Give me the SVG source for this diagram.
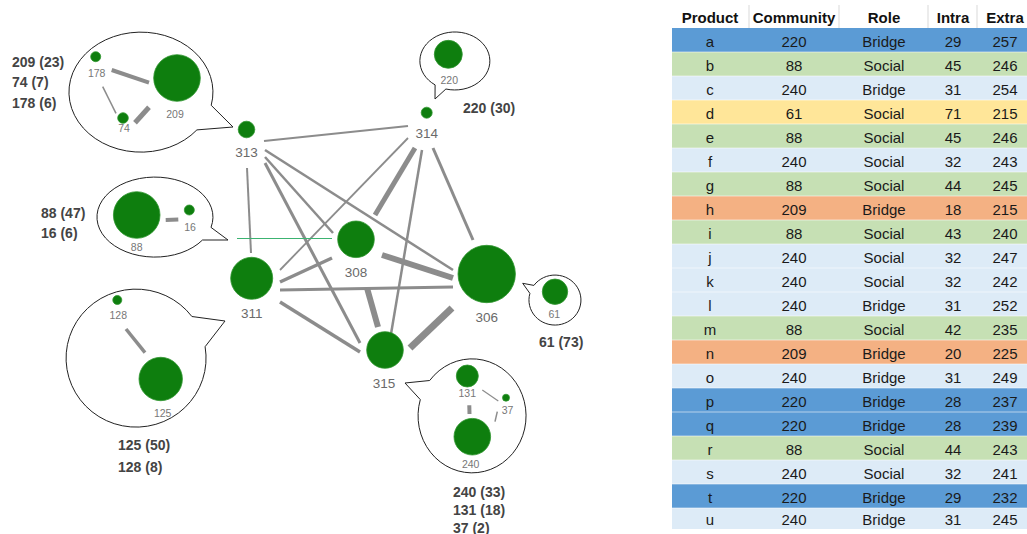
<svg xmlns="http://www.w3.org/2000/svg" width="1027" height="534" viewBox="0 0 1027 534">
  <defs>
    <style>
      .edge { stroke: #8c8c8c; stroke-linecap: butt; fill: none; }
      .node { fill: #0e7e0e; stroke: #2f962f; stroke-width: 0.8; }
      .lbl { font-family: "Liberation Sans", Arial, sans-serif; font-size: 13.5px; fill: #6a6a6a; text-anchor: middle; }
      .sub { font-family: "Liberation Sans", Arial, sans-serif; font-size: 10.5px; fill: #777; text-anchor: middle; }
      .cap { font-family: "Liberation Sans", Arial, sans-serif; font-size: 14px; font-weight: bold; fill: #444; }
      .bubble { fill: #fff; stroke: #222; stroke-width: 1; stroke-linejoin: miter; }
      .th { font-family: "Liberation Sans", Arial, sans-serif; font-size: 15px; font-weight: bold; fill: #111; text-anchor: middle; }
      .td { font-family: "Liberation Sans", Arial, sans-serif; font-size: 15px; fill: #1a1a1a; text-anchor: middle; }
      .blue { fill: #5b9bd5; }
      .green { fill: #c6e0b4; }
      .lblue { fill: #ddebf7; }
      .yellow { fill: #ffe699; }
      .orange { fill: #f4b183; }
    </style>
  </defs>

  <rect x="0" y="0" width="1027" height="534" fill="#fff"/>

  <!-- connectors between communities -->
  <g id="connectors">
    <line class="edge" x1="264" y1="141" x2="408" y2="126" stroke-width="2"/>
    <line class="edge" x1="247" y1="168" x2="251" y2="253" stroke-width="2"/>
    <line class="edge" x1="265" y1="150" x2="453" y2="270" stroke-width="2.5"/>
    <line class="edge" x1="265" y1="157" x2="333" y2="233" stroke-width="2.5"/>
    <line class="edge" x1="265" y1="163" x2="360" y2="343" stroke-width="3"/>
    <line class="edge" x1="408" y1="138" x2="280" y2="270" stroke-width="1.8"/>
    <line class="edge" x1="415" y1="148" x2="375" y2="215" stroke-width="5"/>
    <line class="edge" x1="422" y1="150" x2="390" y2="340" stroke-width="2.5"/>
    <line class="edge" x1="433" y1="148" x2="473" y2="240" stroke-width="3"/>
    <line class="edge" x1="280" y1="282" x2="332" y2="258" stroke-width="3.5"/>
    <line class="edge" x1="280" y1="290" x2="453" y2="287" stroke-width="3"/>
    <line class="edge" x1="280" y1="302" x2="360" y2="352" stroke-width="3.5"/>
    <line class="edge" x1="382" y1="255" x2="453" y2="278" stroke-width="6"/>
    <line class="edge" x1="367" y1="288" x2="378" y2="327" stroke-width="6"/>
    <line class="edge" x1="452" y1="308" x2="410" y2="348" stroke-width="7"/>
    <line x1="237" y1="238.5" x2="332" y2="238.5" stroke="#3cb371" stroke-width="1.2"/>
  </g>

  <!-- community nodes -->
  <g id="n313">
    <circle class="node" cx="246.5" cy="129.5" r="8.3"/>
    <text class="lbl" x="246.5" y="157">313</text>
  </g>
  <g id="n314">
    <circle class="node" cx="426.7" cy="112.7" r="5.5"/>
    <text class="lbl" x="426.7" y="138">314</text>
  </g>
  <g id="n308">
    <circle class="node" cx="356" cy="239.3" r="18.3"/>
    <text class="lbl" x="356" y="277">308</text>
  </g>
  <g id="n311">
    <circle class="node" cx="251.7" cy="278.3" r="21"/>
    <text class="lbl" x="251.7" y="318">311</text>
  </g>
  <g id="n306">
    <circle class="node" cx="486.7" cy="274" r="28.7"/>
    <text class="lbl" x="486.7" y="322">306</text>
  </g>
  <g id="n315">
    <circle class="node" cx="385" cy="350" r="18.3"/>
    <text class="lbl" x="384" y="388">315</text>
  </g>

  <!-- callout for 313 -->
  <g id="callout313">
    <path class="bubble" d="M211.2,105.3 L233,127 L196.9,129.9 A72,60 0 1 1 211.2,105.3 Z"/>
    <line class="edge" x1="111.7" y1="70" x2="149" y2="82.7" stroke-width="4"/>
    <line class="edge" x1="102.7" y1="86.7" x2="116" y2="113.3" stroke-width="1.5"/>
    <line class="edge" x1="135" y1="122.7" x2="149" y2="107.3" stroke-width="5"/>
    <circle class="node" cx="95.7" cy="56.7" r="5"/>
    <circle class="node" cx="177" cy="78" r="23.3"/>
    <circle class="node" cx="123" cy="118" r="5.3"/>
    <text class="sub" x="96.7" y="77">178</text>
    <text class="sub" x="175" y="118">209</text>
    <text class="sub" x="124" y="132">74</text>
    <text class="cap" x="12" y="67">209 (23)</text>
    <text class="cap" x="12" y="87">74 (7)</text>
    <text class="cap" x="12" y="108">178 (6)</text>
  </g>

  <!-- callout for 311 (upper) -->
  <g id="callout88">
    <path class="bubble" d="M211,227.4 L228,240 L202.5,240 A58,40 0 1 1 211,227.4 Z"/>
    <line class="edge" x1="165.7" y1="220" x2="178.3" y2="219.5" stroke-width="4"/>
    <circle class="node" cx="136.7" cy="215" r="23.3"/>
    <circle class="node" cx="189.3" cy="210" r="5"/>
    <text class="sub" x="136.7" y="251">88</text>
    <text class="sub" x="190" y="231">16</text>
    <text class="cap" x="41" y="218">88 (47)</text>
    <text class="cap" x="41" y="238">16 (6)</text>
  </g>

  <!-- callout for 311 (lower) -->
  <g id="callout125">
    <path class="bubble" d="M191.9,316.5 L225,321 L205.1,346.7 A70,69 0 1 1 191.9,316.5 Z"/>
    <line class="edge" x1="126" y1="329" x2="145" y2="352.7" stroke-width="3.5"/>
    <circle class="node" cx="117.3" cy="300" r="4.5"/>
    <circle class="node" cx="160.7" cy="379" r="21.7"/>
    <text class="sub" x="118.3" y="319">128</text>
    <text class="sub" x="162.7" y="417">125</text>
    <text class="cap" x="118" y="450">125 (50)</text>
    <text class="cap" x="118" y="472">128 (8)</text>
  </g>

  <!-- callout for 314 -->
  <g id="callout220">
    <path class="bubble" d="M445.9,89 L435,99 L435.1,84.9 A35,29 0 1 1 445.9,89 Z"/>
    <circle class="node" cx="448.3" cy="54.3" r="14"/>
    <text class="sub" x="449.3" y="84">220</text>
    <text class="cap" x="463" y="113">220 (30)</text>
  </g>

  <!-- callout for 315 -->
  <g id="callout240">
    <path class="bubble" d="M420.3,399.6 L405,383 L429.7,380.5 A54,57 0 1 1 420.3,399.6 Z"/>
    <line class="edge" x1="469.3" y1="405.3" x2="469.5" y2="414" stroke-width="4"/>
    <line class="edge" x1="482.3" y1="390" x2="498.3" y2="401" stroke-width="1.2"/>
    <line class="edge" x1="495" y1="421.7" x2="497.3" y2="411.7" stroke-width="1.5"/>
    <circle class="node" cx="467.3" cy="376" r="11"/>
    <circle class="node" cx="506" cy="397.7" r="3.5"/>
    <circle class="node" cx="472.3" cy="436.7" r="18.3"/>
    <text class="sub" x="467.3" y="397">131</text>
    <text class="sub" x="507.5" y="414">37</text>
    <text class="sub" x="470.7" y="467.5">240</text>
    <text class="cap" x="453" y="497">240 (33)</text>
    <text class="cap" x="453" y="515">131 (18)</text>
    <text class="cap" x="453" y="533">37 (2)</text>
  </g>

  <!-- callout for 306 -->
  <g id="callout61">
    <path class="bubble" d="M529.9,293.4 L522.7,283.3 L533.9,285.4 A26,25 0 1 1 529.9,293.4 Z"/>
    <circle class="node" cx="555" cy="291.7" r="12.7"/>
    <text class="sub" x="554.3" y="317.5">61</text>
    <text class="cap" x="539" y="347">61 (73)</text>
  </g>

  <!-- product table -->
  <g id="table">
    <g id="header">
      <line x1="749" y1="5" x2="749" y2="28" stroke="#d9d9d9"/>
      <line x1="839" y1="5" x2="839" y2="28" stroke="#d9d9d9"/>
      <line x1="928" y1="5" x2="928" y2="28" stroke="#d9d9d9"/>
      <line x1="977" y1="5" x2="977" y2="28" stroke="#d9d9d9"/>
      <text class="th" x="710" y="22.5">Product</text>
      <text class="th" x="794" y="22.5">Community</text>
      <text class="th" x="884" y="22.5">Role</text>
      <text class="th" x="953" y="22.5">Intra</text>
      <text class="th" x="1005" y="22.5">Extra</text>
    </g>
    <g id="rows">
      <rect class="blue" x="672" y="28" width="355" height="24"/>
      <rect class="green" x="672" y="52" width="355" height="24"/>
      <rect class="lblue" x="672" y="76" width="355" height="24"/>
      <rect class="yellow" x="672" y="100" width="355" height="24"/>
      <rect class="green" x="672" y="124" width="355" height="24"/>
      <rect class="lblue" x="672" y="148" width="355" height="24"/>
      <rect class="green" x="672" y="172" width="355" height="24"/>
      <rect class="orange" x="672" y="196" width="355" height="24"/>
      <rect class="green" x="672" y="220" width="355" height="24"/>
      <rect class="lblue" x="672" y="244" width="355" height="24"/>
      <rect class="lblue" x="672" y="268" width="355" height="24"/>
      <rect class="lblue" x="672" y="292" width="355" height="24"/>
      <rect class="green" x="672" y="316" width="355" height="24"/>
      <rect class="orange" x="672" y="340" width="355" height="24"/>
      <rect class="lblue" x="672" y="364" width="355" height="24"/>
      <rect class="blue" x="672" y="388" width="355" height="24"/>
      <rect class="blue" x="672" y="412" width="355" height="24"/>
      <rect class="green" x="672" y="436" width="355" height="24"/>
      <rect class="lblue" x="672" y="460" width="355" height="24"/>
      <rect class="blue" x="672" y="484" width="355" height="24"/>
      <rect class="lblue" x="672" y="508" width="355" height="21"/>
      <g stroke="#ffffff" stroke-opacity="0.55" stroke-width="1">
        <line x1="672" y1="52" x2="1027" y2="52"/>
        <line x1="672" y1="76" x2="1027" y2="76"/>
        <line x1="672" y1="100" x2="1027" y2="100"/>
        <line x1="672" y1="124" x2="1027" y2="124"/>
        <line x1="672" y1="148" x2="1027" y2="148"/>
        <line x1="672" y1="172" x2="1027" y2="172"/>
        <line x1="672" y1="196" x2="1027" y2="196"/>
        <line x1="672" y1="220" x2="1027" y2="220"/>
        <line x1="672" y1="244" x2="1027" y2="244"/>
        <line x1="672" y1="268" x2="1027" y2="268"/>
        <line x1="672" y1="292" x2="1027" y2="292"/>
        <line x1="672" y1="316" x2="1027" y2="316"/>
        <line x1="672" y1="340" x2="1027" y2="340"/>
        <line x1="672" y1="364" x2="1027" y2="364"/>
        <line x1="672" y1="388" x2="1027" y2="388"/>
        <line x1="672" y1="412" x2="1027" y2="412"/>
        <line x1="672" y1="436" x2="1027" y2="436"/>
        <line x1="672" y1="460" x2="1027" y2="460"/>
        <line x1="672" y1="484" x2="1027" y2="484"/>
        <line x1="672" y1="508" x2="1027" y2="508"/>
      </g>
    </g>
    <g id="cells">
      <text class="td" x="710" y="46.5">a</text><text class="td" x="794" y="46.5">220</text><text class="td" x="884" y="46.5">Bridge</text><text class="td" x="953" y="46.5">29</text><text class="td" x="1005" y="46.5">257</text>
      <text class="td" x="710" y="70.5">b</text><text class="td" x="794" y="70.5">88</text><text class="td" x="884" y="70.5">Social</text><text class="td" x="953" y="70.5">45</text><text class="td" x="1005" y="70.5">246</text>
      <text class="td" x="710" y="94.5">c</text><text class="td" x="794" y="94.5">240</text><text class="td" x="884" y="94.5">Bridge</text><text class="td" x="953" y="94.5">31</text><text class="td" x="1005" y="94.5">254</text>
      <text class="td" x="710" y="118.5">d</text><text class="td" x="794" y="118.5">61</text><text class="td" x="884" y="118.5">Social</text><text class="td" x="953" y="118.5">71</text><text class="td" x="1005" y="118.5">215</text>
      <text class="td" x="710" y="142.5">e</text><text class="td" x="794" y="142.5">88</text><text class="td" x="884" y="142.5">Social</text><text class="td" x="953" y="142.5">45</text><text class="td" x="1005" y="142.5">246</text>
      <text class="td" x="710" y="166.5">f</text><text class="td" x="794" y="166.5">240</text><text class="td" x="884" y="166.5">Social</text><text class="td" x="953" y="166.5">32</text><text class="td" x="1005" y="166.5">243</text>
      <text class="td" x="710" y="190.5">g</text><text class="td" x="794" y="190.5">88</text><text class="td" x="884" y="190.5">Social</text><text class="td" x="953" y="190.5">44</text><text class="td" x="1005" y="190.5">245</text>
      <text class="td" x="710" y="214.5">h</text><text class="td" x="794" y="214.5">209</text><text class="td" x="884" y="214.5">Bridge</text><text class="td" x="953" y="214.5">18</text><text class="td" x="1005" y="214.5">215</text>
      <text class="td" x="710" y="238.5">i</text><text class="td" x="794" y="238.5">88</text><text class="td" x="884" y="238.5">Social</text><text class="td" x="953" y="238.5">43</text><text class="td" x="1005" y="238.5">240</text>
      <text class="td" x="710" y="262.5">j</text><text class="td" x="794" y="262.5">240</text><text class="td" x="884" y="262.5">Social</text><text class="td" x="953" y="262.5">32</text><text class="td" x="1005" y="262.5">247</text>
      <text class="td" x="710" y="286.5">k</text><text class="td" x="794" y="286.5">240</text><text class="td" x="884" y="286.5">Social</text><text class="td" x="953" y="286.5">32</text><text class="td" x="1005" y="286.5">242</text>
      <text class="td" x="710" y="310.5">l</text><text class="td" x="794" y="310.5">240</text><text class="td" x="884" y="310.5">Bridge</text><text class="td" x="953" y="310.5">31</text><text class="td" x="1005" y="310.5">252</text>
      <text class="td" x="710" y="334.5">m</text><text class="td" x="794" y="334.5">88</text><text class="td" x="884" y="334.5">Social</text><text class="td" x="953" y="334.5">42</text><text class="td" x="1005" y="334.5">235</text>
      <text class="td" x="710" y="358.5">n</text><text class="td" x="794" y="358.5">209</text><text class="td" x="884" y="358.5">Bridge</text><text class="td" x="953" y="358.5">20</text><text class="td" x="1005" y="358.5">225</text>
      <text class="td" x="710" y="382.5">o</text><text class="td" x="794" y="382.5">240</text><text class="td" x="884" y="382.5">Bridge</text><text class="td" x="953" y="382.5">31</text><text class="td" x="1005" y="382.5">249</text>
      <text class="td" x="710" y="406.5">p</text><text class="td" x="794" y="406.5">220</text><text class="td" x="884" y="406.5">Bridge</text><text class="td" x="953" y="406.5">28</text><text class="td" x="1005" y="406.5">237</text>
      <text class="td" x="710" y="430.5">q</text><text class="td" x="794" y="430.5">220</text><text class="td" x="884" y="430.5">Bridge</text><text class="td" x="953" y="430.5">28</text><text class="td" x="1005" y="430.5">239</text>
      <text class="td" x="710" y="454.5">r</text><text class="td" x="794" y="454.5">88</text><text class="td" x="884" y="454.5">Social</text><text class="td" x="953" y="454.5">44</text><text class="td" x="1005" y="454.5">243</text>
      <text class="td" x="710" y="478.5">s</text><text class="td" x="794" y="478.5">240</text><text class="td" x="884" y="478.5">Social</text><text class="td" x="953" y="478.5">32</text><text class="td" x="1005" y="478.5">241</text>
      <text class="td" x="710" y="502.5">t</text><text class="td" x="794" y="502.5">220</text><text class="td" x="884" y="502.5">Bridge</text><text class="td" x="953" y="502.5">29</text><text class="td" x="1005" y="502.5">232</text>
      <text class="td" x="710" y="525">u</text><text class="td" x="794" y="525">240</text><text class="td" x="884" y="525">Bridge</text><text class="td" x="953" y="525">31</text><text class="td" x="1005" y="525">245</text>
    </g>
  </g>
</svg>
